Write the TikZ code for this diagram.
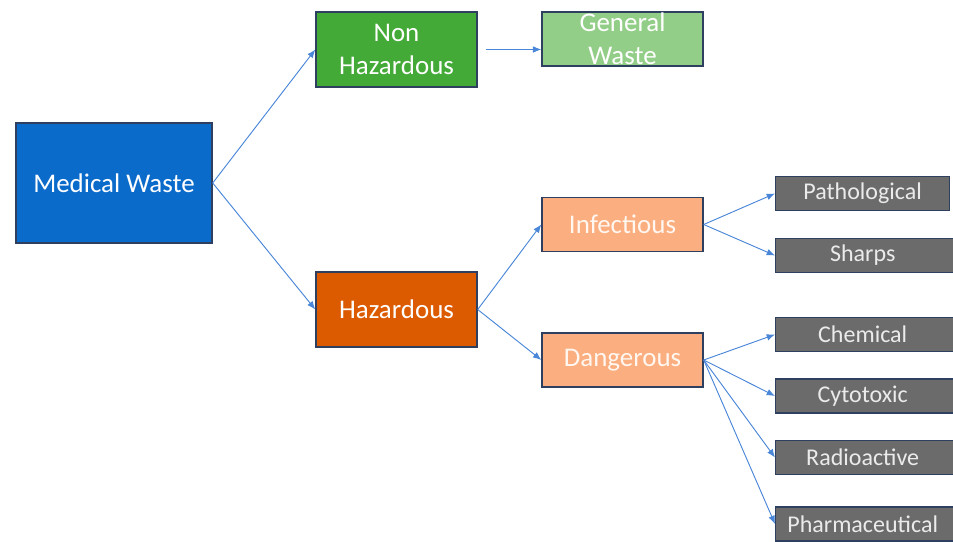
\documentclass[tikz,border=0pt]{standalone}
\usepackage{fontspec}
\setmainfont{Carlito}
\usetikzlibrary{arrows.meta}
\definecolor{mwblue}{HTML}{0A6BCB}
\definecolor{mwgreen}{HTML}{44AA37}
\definecolor{mwlgreen}{HTML}{93CE88}
\definecolor{mworange}{HTML}{DD5B00}
\definecolor{mwlorange}{HTML}{FBAE7F}
\definecolor{mwgray}{HTML}{6B6B6B}
\definecolor{mwborder}{HTML}{2F3F5F}
\definecolor{mwarrow}{HTML}{4A86D8}
\tikzset{
  box/.style={rectangle, fill=#1, draw=mwborder, line width=1.2pt, text=white,
              align=center, inner sep=0pt},
  bigbox/.style={box=#1, minimum width=5.88cm, minimum height=3.6cm,
              font=\fontsize{23}{28}\selectfont},
  midbox/.style={box=#1, minimum width=4.83cm, minimum height=1.62cm,
              font=\fontsize{23}{28}\selectfont},
  leafbox/.style={box=mwgray, minimum width=5.5cm, minimum height=1.02cm, anchor=west,
              text=white!92!black, font=\fontsize{20.5}{24}\selectfont},
  link/.style={-{Latex[length=2.5mm, width=2mm]}, line width=0.8pt, draw=mwarrow},
}

\begin{document}
\begin{tikzpicture}
  \useasboundingbox (0,0) rectangle (28.59,-16.26);

  \node[bigbox=mwblue] (med) at (3.42,-5.49) {Medical Waste};

  % --- ramo non pericoloso
  \node[midbox=mwgreen, minimum height=2.25cm] (nonhaz) at (11.895,-1.485) {Non\\Hazardous};
  \node[midbox=mwlgreen, inner ysep=-2pt] (general) at (18.675,-1.17) {General\\Waste};

  % --- ramo pericoloso
  \node[midbox=mworange, minimum height=2.25cm] (haz) at (11.895,-9.285) {Hazardous};
  \node[midbox=mwlorange, text=white!94!orange] (infect) at (18.675,-6.735) {Infectious};
  \node[midbox=mwlorange, text=white!94!orange] (danger) at (18.675,-10.8) {Dangerous};

  % --- foglie (bordo sinistro a x=23.25)
  \node[leafbox, minimum width=5.22cm] (patho) at (23.25,-5.805) {Pathological};
  \node[leafbox] (sharps) at (23.25,-7.665) {\hspace*{-0.28cm}Sharps};
  \node[leafbox] (chem) at (23.25,-10.035)  {\hspace*{-0.28cm}Chemical};
  \node[leafbox] (cyto) at (23.25,-11.88)   {\hspace*{-0.28cm}Cytotoxic};
  \node[leafbox] (radio) at (23.25,-13.725) {\hspace*{-0.28cm}Radioactive};
  \node[leafbox] (pharma) at (23.25,-15.72) {\hspace*{-0.28cm}Pharmaceutical};

  \foreach \n in {nonhaz,haz}{ \draw[link] (med.east) -- (\n.west); }
  \draw[link, shorten <=0.24cm] (nonhaz.east) -- (general.west |- nonhaz.east);
  \foreach \n in {infect,danger}{ \draw[link] (haz.east) -- (\n.west); }
  \foreach \n in {patho,sharps}{ \draw[link] (infect.east) -- (\n.west); }
  \foreach \n in {chem,cyto,radio,pharma}{ \draw[link] (danger.east) -- (\n.west); }
\end{tikzpicture}
\end{document}
